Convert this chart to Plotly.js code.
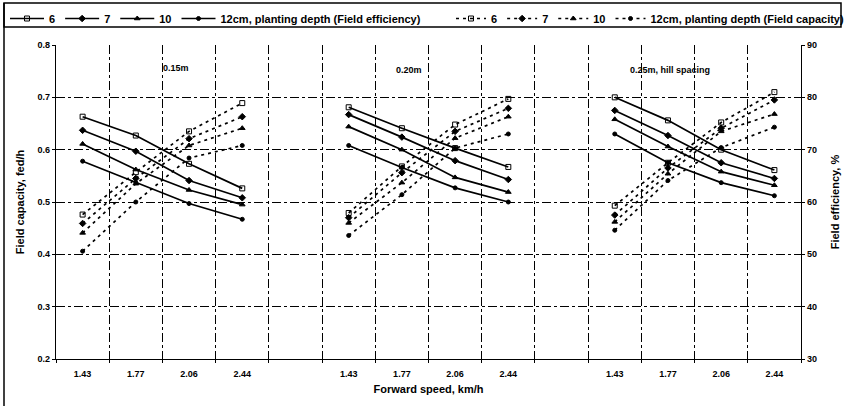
<!DOCTYPE html>
<html>
<head>
<meta charset="utf-8">
<script src="https://cdn.plot.ly/plotly-3.0.1.min.js"></script>
<style>html,body{margin:0;padding:0;background:#fff;}#chart{width:844px;height:406px;}</style>
</head>
<body>
<div id="chart"></div>
<script>
// ---- data ----
const speeds = ['1.43', '1.77', '2.06', '2.44'];              // forward speed, km/h
const spacings = ['0.15m', '0.20m', '0.25m, hill spacing'];     // hill spacing groups
const depthNames = ['6', '7', '10', '12cm, planting depth'];   // planting depth

// Field efficiency, % (4 speeds x 3 spacings, spacing by spacing)
const eff6  = [76.3, 72.7, 67.3, 62.6,  78.1, 74.1, 70.3, 66.7,  80.0, 75.6, 70.0, 66.1];
const eff7  = [73.7, 69.7, 64.1, 60.8,  76.7, 72.4, 67.9, 64.3,  77.5, 72.7, 67.5, 64.5];
const eff10 = [71.1, 66.2, 62.3, 59.5,  74.4, 70.0, 64.7, 61.9,  75.8, 70.6, 65.8, 63.2];
const eff12 = [67.8, 63.7, 59.7, 56.7,  70.8, 66.6, 62.7, 60.0,  73.0, 67.5, 63.7, 61.2];

// Field capacity, fed/h
const cap6  = [0.476, 0.557, 0.635, 0.689,  0.479, 0.568, 0.648, 0.697,  0.493, 0.575, 0.652, 0.710];
const cap7  = [0.459, 0.545, 0.621, 0.663,  0.470, 0.556, 0.635, 0.679,  0.475, 0.565, 0.641, 0.695];
const cap10 = [0.441, 0.535, 0.608, 0.641,  0.460, 0.537, 0.622, 0.663,  0.462, 0.554, 0.635, 0.668];
const cap12 = [0.406, 0.500, 0.584, 0.608,  0.436, 0.514, 0.603, 0.630,  0.446, 0.541, 0.604, 0.643];

// ---- build positions: groups of 4 speeds separated by one empty slot ----
const slot = speeds.length + 1;
const xs = [], tickvals = [], ticktext = [];
spacings.forEach((s, g) => {
  speeds.forEach((v, i) => { xs.push(g * slot + i); tickvals.push(g * slot + i); ticktext.push(v); });
  if (g < spacings.length - 1) xs.push(g * slot + speeds.length);
});
function withGaps(vals) {
  const out = [];
  spacings.forEach((s, g) => {
    for (let i = 0; i < speeds.length; i++) out.push(vals[g * speeds.length + i]);
    if (g < spacings.length - 1) out.push(null);
  });
  return out;
}

const effSeries = [eff6, eff7, eff10, eff12];
const capSeries = [cap6, cap7, cap10, cap12];
const symbols = ['square-open', 'diamond', 'triangle-up', 'circle'];
const sizes = [5, 5, 5, 4];

const traces = [];
effSeries.forEach((vals, k) => {
  traces.push({
    type: 'scatter', mode: 'lines+markers', legend: 'legend',
    x: xs, y: withGaps(vals), yaxis: 'y2', connectgaps: false,
    name: k === 3 ? depthNames[k] + ' (Field efficiency)' : depthNames[k],
    line: {color: '#000', width: 1.7},
    marker: {symbol: symbols[k], size: sizes[k], color: '#000', line: {color: '#000', width: 1}}
  });
});
capSeries.forEach((vals, k) => {
  traces.push({
    type: 'scatter', mode: 'lines+markers', legend: 'legend2',
    x: xs, y: withGaps(vals), yaxis: 'y', connectgaps: false,
    name: k === 3 ? depthNames[k] + ' (Field capacity)' : depthNames[k],
    line: {color: '#000', width: 1.7, dash: '3px,4px'},
    marker: {symbol: symbols[k], size: sizes[k], color: '#000', line: {color: '#000', width: 1}}
  });
});

const FF = 'Liberation Sans, Arial, sans-serif';
const bold = {family: FF, size: 9, color: '#000', weight: 700};
const legendFont = {family: FF, size: 11, color: '#000', weight: 700};
const titleFont = {family: FF, size: 11, color: '#000', weight: 700};

const layout = {
  width: 844, height: 406,
  margin: {l: 56, r: 43, t: 45, b: 47},
  paper_bgcolor: '#fff', plot_bgcolor: '#fff',
  font: bold,
  showlegend: true,
  legend: {
    orientation: 'h', xref: 'container', yref: 'container',
    x: 5 / 844, xanchor: 'left', y: 1 - 4 / 406, yanchor: 'top',
    borderwidth: 0, bgcolor: 'rgba(0,0,0,0)', font: legendFont, itemwidth: 34
  },
  legend2: {
    orientation: 'h', xref: 'container', yref: 'container',
    x: 451 / 844, xanchor: 'left', y: 1 - 4 / 406, yanchor: 'top',
    borderwidth: 0, bgcolor: 'rgba(0,0,0,0)', font: legendFont, itemwidth: 30
  },
  xaxis: {
    range: [-0.5, xs.length - 0.5],
    tickmode: 'array', tickvals: tickvals, ticktext: ticktext,
    ticks: '', showgrid: false, zeroline: false,
    showline: true, linecolor: '#000', linewidth: 1.3,
    ticklabelstandoff: 6,
    tickfont: bold,
    automargin: true,
    minor: {tickmode: 'linear', tick0: -0.5, dtick: 1, showgrid: true, gridcolor: '#000',
            gridwidth: 1, griddash: 'dashdot', ticks: 'outside', ticklen: 3, tickcolor: '#000'},
    title: {text: 'Forward speed, km/h', font: titleFont, standoff: 7}
  },
  yaxis: {
    range: [0.2, 0.8], tick0: 0.2, dtick: 0.1, tickformat: '.1f',
    showgrid: true, gridcolor: '#000', gridwidth: 1, griddash: 'dashdot',
    zeroline: false, showline: true, linecolor: '#000', linewidth: 1.3,
    ticks: 'outside', ticklen: 3, tickcolor: '#000',
    tickfont: bold,
    title: {text: 'Field capacity, fed/h', font: titleFont}
  },
  yaxis2: {
    overlaying: 'y', side: 'right',
    range: [30, 90], tick0: 30, dtick: 10,
    showgrid: false, zeroline: false, showline: true, linecolor: '#000', linewidth: 1.3,
    ticks: 'outside', ticklen: 3, tickcolor: '#000',
    tickfont: bold,
    title: {text: 'Field efficiency, %', font: titleFont}
  },
  annotations: [
    {text: spacings[0], x: 1.75, y: 0.757, xref: 'x', yref: 'y', showarrow: false, font: bold},
    {text: spacings[1], x: 6.13, y: 0.753, xref: 'x', yref: 'y', showarrow: false, font: bold},
    {text: spacings[2], x: 11.04, y: 0.753, xref: 'x', yref: 'y', showarrow: false, font: bold}
  ],
  shapes: [
    // legend frame
    {type: 'rect', xref: 'paper', yref: 'paper',
     x0: (4 - 56) / 745, x1: (841 - 56) / 745, y0: (359 - 27) / 314, y1: (359 - 3) / 314,
     line: {color: '#000', width: 1.5}, fillcolor: 'rgba(0,0,0,0)'},
    // left frame line of the figure
    {type: 'line', xref: 'paper', yref: 'paper', x0: (4 - 56) / 745, x1: (4 - 56) / 745,
     y0: (359 - 406) / 314, y1: (359 - 3) / 314, line: {color: '#000', width: 1.5}}
  ]
};

Plotly.newPlot('chart', traces, layout, {displayModeBar: false, staticPlot: true});
</script>
</body>
</html>
